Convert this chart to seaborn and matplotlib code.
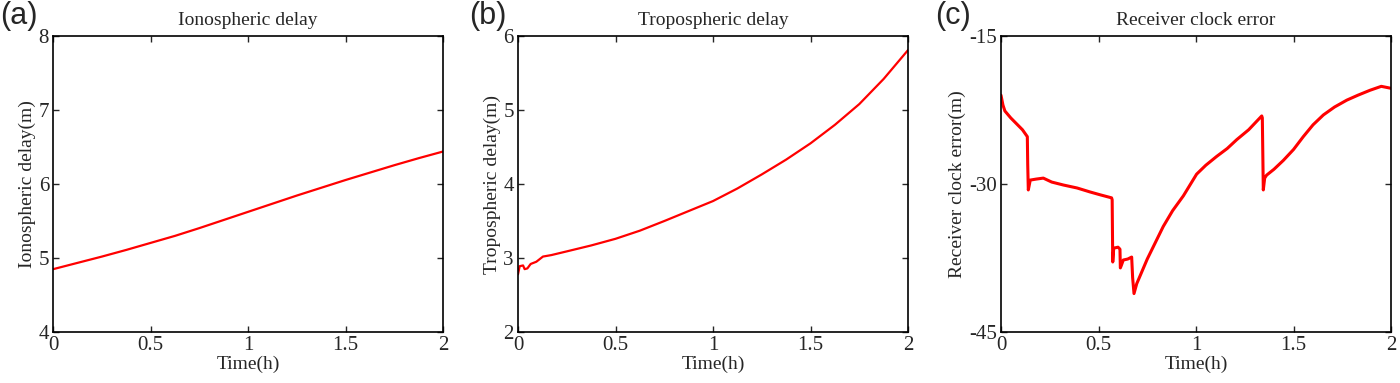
# -*- coding: utf-8 -*-
"""
Three-panel figure: ionospheric delay, tropospheric delay, receiver clock error over 2 h.
Saves out.png (1400x383).
"""
import matplotlib
matplotlib.use("Agg")
import matplotlib.pyplot as plt
import seaborn as sns

# (a) Ionospheric delay (m) vs time (h)
iono_t = [0.0, 0.125, 0.25, 0.375, 0.5, 0.625, 0.75, 0.875, 1.0,
          1.125, 1.25, 1.375, 1.5, 1.625, 1.75, 1.875, 2.0]
iono_v = [4.85, 4.935, 5.02, 5.11, 5.205, 5.30, 5.405, 5.515, 5.625,
          5.735, 5.845, 5.95, 6.055, 6.155, 6.255, 6.35, 6.44]

# (b) Tropospheric delay (m) vs time (h)
tropo_t = [0.0, 0.0085, 0.026, 0.034, 0.048, 0.065, 0.094, 0.128, 0.171, 0.25,
           0.375, 0.5, 0.625, 0.75, 0.875, 1.0, 1.125, 1.25, 1.375, 1.5,
           1.625, 1.75, 1.875, 2.0]
tropo_v = [2.78, 2.89, 2.90, 2.85, 2.86, 2.92, 2.95, 3.02, 3.04, 3.09,
           3.17, 3.26, 3.37, 3.50, 3.635, 3.77, 3.94, 4.13, 4.33, 4.55,
           4.80, 5.08, 5.42, 5.81]

# (c) Receiver clock error (m) vs time (h)
clock_t = [0.0, 0.01, 0.02, 0.05, 0.08, 0.11, 0.135, 0.137, 0.14, 0.15, 0.18, 0.217,
           0.26, 0.32, 0.39, 0.456, 0.51, 0.567, 0.570, 0.573, 0.578, 0.60, 0.61, 0.612,
           0.618, 0.627, 0.65, 0.67, 0.675, 0.682, 0.696, 0.75, 0.832, 0.88, 0.935,
           1.003, 1.05, 1.106, 1.16, 1.209, 1.27, 1.337, 1.340, 1.345, 1.352, 1.362,
           1.40, 1.448, 1.50, 1.55, 1.60, 1.653, 1.71, 1.773, 1.83, 1.892, 1.95, 2.0]
clock_v = [-21.0, -22.0, -22.6, -23.3, -23.9, -24.5, -25.2, -28.0, -30.6, -29.6, -29.5, -29.4,
           -29.8, -30.1, -30.4, -30.8, -31.1, -31.4, -31.6, -37.9, -36.5, -36.4, -36.6, -38.5,
           -38.2, -37.7, -37.6, -37.4, -39.5, -41.1, -40.1, -37.6, -34.3, -32.7, -31.2,
           -29.0, -28.1, -27.2, -26.4, -25.5, -24.5, -23.1, -23.3, -30.6, -29.4, -29.1,
           -28.5, -27.6, -26.5, -25.2, -24.0, -23.0, -22.2, -21.5, -21.0, -20.5, -20.1, -20.3]

panels = [
    ("(a)", "Ionospheric delay", "Ionospheric delay(m)", iono_t, iono_v, [4, 5, 6, 7, 8]),
    ("(b)", "Tropospheric delay", "Tropospheric delay(m)", tropo_t, tropo_v, [2, 3, 4, 5, 6]),
    ("(c)", "Receiver clock error", "Receiver clock error(m)", clock_t, clock_v, [-45, -30, -15]),
]
x_ticks = [0, 0.5, 1, 1.5, 2]
x_labels = ["0", "0.5", "1", "1.5", "2"]


def main():
    sns.set_theme(style="ticks")
    plt.rcParams["font.family"] = ["Liberation Serif", "DejaVu Serif"]
    plt.rcParams["axes.unicode_minus"] = False
    plt.rcParams["xtick.direction"] = "in"
    plt.rcParams["ytick.direction"] = "in"

    fig = plt.figure(figsize=(14, 3.83), dpi=100)
    lefts = [0.038, 0.370, 0.715]
    tag_x = [0.0, 0.335, 0.668]

    for i, (tag, title, ylabel, t, v, yticks) in enumerate(panels):
        ax = fig.add_axes([lefts[i], 0.133, 0.2786, 0.773])
        sns.lineplot(x=t, y=v, ax=ax, color="#FF0000", linewidth=2.2 if i == 2 else 1.6,
                     sort=False, estimator=None)
        ax.set_xlim(0, 2)
        ax.set_ylim(min(yticks), max(yticks))
        ax.set_xticks(x_ticks)
        ax.set_xticklabels(x_labels)
        ax.set_yticks(yticks)
        ax.set_yticklabels([str(y) for y in yticks])
        ax.tick_params(axis="both", labelsize=15, length=4, width=1,
                       top=True, right=True, pad=3)
        for s in ax.spines.values():
            s.set_linewidth(1.2)
            s.set_color("black")
        ax.set_xlabel("Time(h)", fontsize=14, labelpad=0)
        ax.set_ylabel(ylabel, fontsize=14, labelpad=2)
        ax.set_title(title, fontsize=14, pad=8)
        fig.text(tag_x[i], 0.998, tag, ha="left", va="top", fontsize=22,
                 family=["Liberation Sans", "DejaVu Sans"])

    fig.savefig("out.png", dpi=100)
    plt.close(fig)


if __name__ == "__main__":
    main()
